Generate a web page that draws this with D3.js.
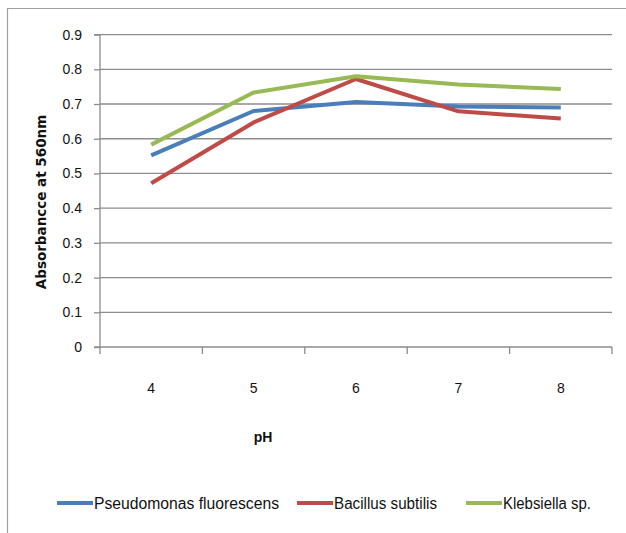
<!DOCTYPE html>
<html>
<head>
<meta charset="utf-8">
<script src="https://cdn.jsdelivr.net/npm/d3@7"></script>
<style>
  body { margin: 0; background: #fff; }
  svg { display: block; }
</style>
</head>
<body>
<script>
const categories = ["4", "5", "6", "7", "8"];
const seriesNames = ["Pseudomonas fluorescens", "Bacillus subtilis", "Klebsiella sp."];
const pseudomonas = [0.552, 0.680, 0.706, 0.693, 0.690];
const bacillus = [0.472, 0.647, 0.772, 0.679, 0.658];
const klebsiella = [0.583, 0.733, 0.780, 0.756, 0.743];
const yTicks = [0, 0.1, 0.2, 0.3, 0.4, 0.5, 0.6, 0.7, 0.8, 0.9];
const colors = ["#4A7EBB", "#BE4B48", "#98B954"];

const width = 626, height = 533;
const svg = d3.select("body").append("svg")
    .attr("width", width)
    .attr("height", height);

// outer frame of the chart object
svg.append("path")
    .attr("d", `M7.5,${height} V8.5 H${width}`)
    .attr("fill", "none")
    .attr("stroke", "#a0a0a0")
    .attr("stroke-width", 1.2);

const plotLeft = 100, plotRight = 612, plotTop = 34.6, plotBottom = 347;

const x = d3.scaleBand().domain(categories).range([plotLeft, plotRight]);
const y = d3.scaleLinear().domain([0, 0.9]).range([plotBottom, plotTop]);

const labelFont = "'Liberation Sans', sans-serif";

// gridlines
svg.append("g")
    .selectAll("line")
    .data(yTicks.filter(d => d > 0))
    .join("line")
    .attr("x1", plotLeft)
    .attr("x2", plotRight)
    .attr("y1", d => y(d))
    .attr("y2", d => y(d))
    .attr("stroke", "#8c8c8c")
    .attr("stroke-width", 1.3);

// y axis
const yAxis = svg.append("g")
    .attr("transform", `translate(${plotLeft},0)`)
    .call(d3.axisLeft(y).tickValues(yTicks).tickSize(6).tickPadding(12)
        .tickFormat(d => d === 0 ? "0" : d3.format(".1f")(d)));
yAxis.selectAll("path, line").attr("stroke", "#8c8c8c").attr("stroke-width", 1.3);
yAxis.select(".domain").attr("d", `M-6,${plotTop}H0V${plotBottom}`);
yAxis.selectAll("text")
    .attr("font-family", labelFont)
    .attr("font-size", 14)
    .attr("fill", "#111");

// x axis: ticks on category boundaries
const xAxis = svg.append("g")
    .attr("transform", `translate(0,${plotBottom})`);
xAxis.append("line")
    .attr("x1", plotLeft - 6).attr("x2", plotRight)
    .attr("stroke", "#8c8c8c").attr("stroke-width", 1.3);
const bounds = categories.map(d => x(d)).concat([x(categories[categories.length - 1]) + x.bandwidth()]);
xAxis.selectAll(".tk")
    .data(bounds)
    .join("line")
    .attr("class", "tk")
    .attr("x1", d => d)
    .attr("x2", d => d)
    .attr("y1", 0).attr("y2", 7)
    .attr("stroke", "#8c8c8c").attr("stroke-width", 1.3);
xAxis.selectAll(".lbl")
    .data(categories)
    .join("text")
    .attr("class", "lbl")
    .attr("x", d => x(d) + x.bandwidth() / 2)
    .attr("y", 46)
    .attr("text-anchor", "middle")
    .attr("font-family", labelFont)
    .attr("font-size", 14)
    .attr("fill", "#111")
    .text(d => d);

// axis titles
svg.append("text")
    .attr("x", 263)
    .attr("y", 442)
    .attr("text-anchor", "middle")
    .attr("font-family", labelFont)
    .attr("font-weight", "bold")
    .attr("font-size", 14)
    .attr("fill", "#111")
    .text("pH");

svg.append("text")
    .attr("transform", "translate(46,202) rotate(-90)")
    .attr("text-anchor", "middle")
    .attr("font-family", "'DejaVu Sans', sans-serif")
    .attr("font-weight", "bold")
    .attr("font-size", 13.5)
    .attr("fill", "#111")
    .text("Absorbancce at 560nm");

// series lines
const series = [pseudomonas, bacillus, klebsiella];
const line = d3.line()
    .x((d, i) => x(categories[i]) + x.bandwidth() / 2)
    .y(d => y(d));

svg.append("g")
    .selectAll("path")
    .data(series)
    .join("path")
    .attr("d", line)
    .attr("fill", "none")
    .attr("stroke", (d, i) => colors[i])
    .attr("stroke-width", 4)
    .attr("stroke-linejoin", "round");

// legend (narrow text squeezed to the reference widths)
const legendX = [57, 297, 466];
const legendW = [185, 103, 88];
const legend = svg.append("g").selectAll("g")
    .data(seriesNames)
    .join("g")
    .attr("transform", (d, i) => `translate(${legendX[i]},503)`);
legend.append("line")
    .attr("x1", 0).attr("x2", 36)
    .attr("stroke", (d, i) => colors[i])
    .attr("stroke-width", 4);
legend.append("text")
    .attr("x", 37)
    .attr("y", 6)
    .attr("font-family", labelFont)
    .attr("font-size", 16)
    .attr("textLength", (d, i) => legendW[i])
    .attr("lengthAdjust", "spacingAndGlyphs")
    .attr("fill", "#111")
    .text(d => d);
</script>
</body>
</html>
